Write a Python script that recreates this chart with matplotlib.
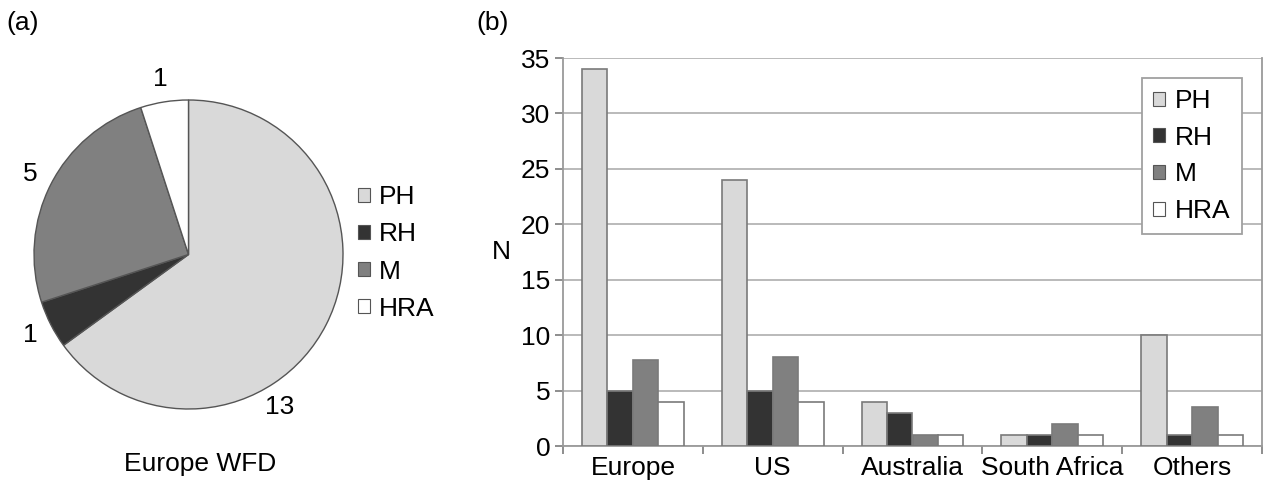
import numpy as np
import matplotlib
matplotlib.use('Agg')
import matplotlib.pyplot as plt
from matplotlib.patches import Patch

plt.rcParams['font.family'] = ['Liberation Sans', 'DejaVu Sans']

# ---- data ----
series = ['PH', 'RH', 'M', 'HRA']
colors = ['#d9d9d9', '#333333', '#808080', '#ffffff']

pie_values = [13, 1, 5, 1]

regions = ['Europe', 'US', 'Australia', 'South Africa', 'Others']
ph = [34, 24, 4, 1, 10]
rh = [5, 5, 3, 1, 1]
m = [7.8, 8, 1, 2, 3.5]
hra = [4, 4, 1, 1, 1]

edge = '#7a7a7a'
FS = 19
W, H = 1269, 484
fig = plt.figure(figsize=(W / 100, H / 100), dpi=100, facecolor='white')

# ---- (a) pie ----
cx, cy, r = 188.5, 254.5, 154.5
ax0 = fig.add_axes([(cx - r) / W, (H - cy - r) / H, 2 * r / W, 2 * r / H])
wedges, _ = ax0.pie(pie_values, colors=colors, startangle=90, counterclock=False,
                    wedgeprops=dict(edgecolor='#555555', linewidth=1.0))
ax0.set_xlim(-1, 1)
ax0.set_ylim(-1, 1)
ax0.set_aspect('equal')
ax0.axis('off')

# label placement (Excel moved the big one off the wedge middle)
label_angle = {0: -59}
for i, (wd, v) in enumerate(zip(wedges, pie_values)):
    ang = label_angle.get(i, (wd.theta1 + wd.theta2) / 2)
    d = 1.15
    ax0.text(d * np.cos(np.radians(ang)), d * np.sin(np.radians(ang)), str(v),
             ha='center', va='center', fontsize=FS, clip_on=False)

ax0.legend([Patch(facecolor=c, edgecolor='#555555', linewidth=0.8) for c in colors], series,
           loc='center left', bbox_to_anchor=((358 - (cx - r)) / (2 * r), (H - 253 - (H - cy - r)) / (2 * r)),
           frameon=False, fontsize=FS, handlelength=0.45, handleheight=0.45,
           handletextpad=0.35, labelspacing=0.5, borderpad=0, borderaxespad=0)

fig.text(23 / W, 1 - 23 / H, '(a)', fontsize=FS, ha='center', va='center')
fig.text(200 / W, 1 - 464 / H, 'Europe WFD', fontsize=FS, ha='center', va='center')

# ---- (b) bars ----
L, R, T, B = 563, 1262, 58, 446
ax1 = fig.add_axes([L / W, (H - B) / H, (R - L) / W, (B - T) / H])
x = np.arange(len(regions))
w = 0.182
for k, (vals, c, lab) in enumerate(zip([ph, rh, m, hra], colors, series)):
    ax1.bar(x + (k - 1.5) * w, vals, width=w, color=c, edgecolor=edge, linewidth=1.2,
            label=lab, zorder=3)

ax1.set_xlim(-0.5, len(regions) - 0.5)
ax1.set_ylim(0, 35)
ax1.set_yticks(np.arange(0, 36, 5))
ax1.yaxis.grid(True, color='#b4b4b4', linewidth=1.3, zorder=0)
ax1.set_axisbelow(True)
ax1.set_xticks(x)
ax1.set_xticklabels(regions)
ax1.set_xticks(np.arange(-0.5, len(regions), 1), minor=True)
ax1.tick_params(axis='x', which='major', length=0, pad=7, labelsize=FS)
ax1.tick_params(axis='x', which='minor', length=6, color=edge, width=1.2)
ax1.tick_params(axis='y', length=6, color=edge, width=1.2, pad=3, labelsize=FS)
for s in ['left', 'bottom', 'right']:
    ax1.spines[s].set_color('#9a9a9a')
    ax1.spines[s].set_linewidth(1.3)
ax1.spines['top'].set_visible(False)
ax1.set_ylabel('N', rotation=0, fontsize=FS, labelpad=14, va='center')

leg = ax1.legend(loc='upper right', bbox_to_anchor=((1242 - L) / (R - L), (B - 78) / (B - T)),
                 fontsize=FS, handlelength=0.45, handleheight=0.45, handletextpad=0.4,
                 labelspacing=0.48, borderpad=0.42, borderaxespad=0, fancybox=False,
                 edgecolor='#a0a0a0', framealpha=1)
leg.get_frame().set_linewidth(1.3)
for hnd in leg.legend_handles:
    hnd.set_linewidth(0.8)
    hnd.set_edgecolor('#555555')

fig.text(493 / W, 1 - 23 / H, '(b)', fontsize=FS, ha='center', va='center')

fig.savefig('out.png', dpi=100, facecolor='white')
